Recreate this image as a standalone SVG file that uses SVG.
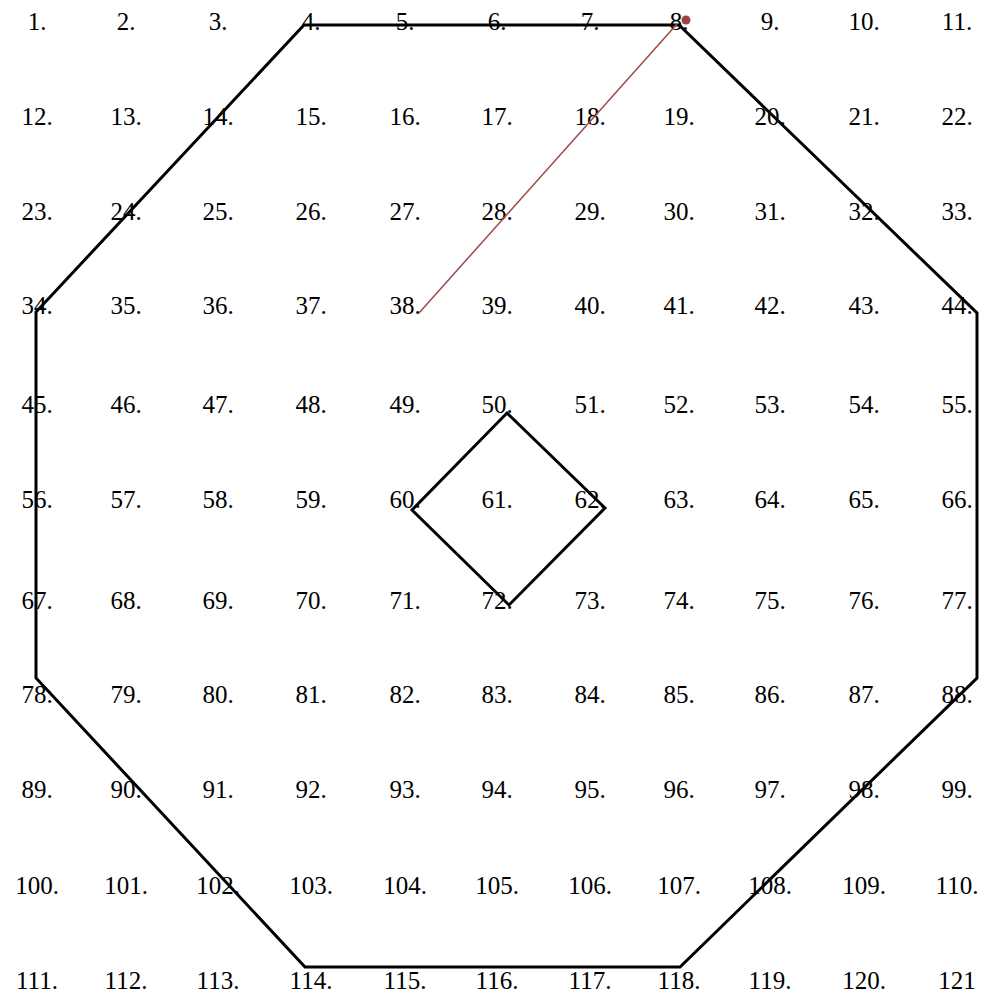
<svg xmlns="http://www.w3.org/2000/svg" width="990" height="998" viewBox="0 0 990 998">
<style>
.lbl{font-family:"Liberation Serif","Times New Roman",serif;font-size:25px;fill:#000;text-anchor:middle}
.shape{fill:none;stroke:#000;stroke-width:3;stroke-linejoin:miter}
.red{stroke:#a04848;stroke-width:1.5;fill:none}
</style>
<rect width="990" height="998" fill="#fff"/>
<g id="labels" class="lbl">
<g transform="translate(0,30)"><text x="37">1.</text><text x="126">2.</text><text x="218">3.</text><text x="311">4.</text><text x="405">5.</text><text x="497">6.</text><text x="590">7.</text><text x="679">8.</text><text x="770">9.</text><text x="864">10.</text><text x="957">11.</text></g>
<g transform="translate(0,125)"><text x="37">12.</text><text x="126">13.</text><text x="218">14.</text><text x="311">15.</text><text x="405">16.</text><text x="497">17.</text><text x="590">18.</text><text x="679">19.</text><text x="770">20.</text><text x="864">21.</text><text x="957">22.</text></g>
<g transform="translate(0,220)"><text x="37">23.</text><text x="126">24.</text><text x="218">25.</text><text x="311">26.</text><text x="405">27.</text><text x="497">28.</text><text x="590">29.</text><text x="679">30.</text><text x="770">31.</text><text x="864">32.</text><text x="957">33.</text></g>
<g transform="translate(0,314)"><text x="37">34.</text><text x="126">35.</text><text x="218">36.</text><text x="311">37.</text><text x="405">38.</text><text x="497">39.</text><text x="590">40.</text><text x="679">41.</text><text x="770">42.</text><text x="864">43.</text><text x="957">44.</text></g>
<g transform="translate(0,413)"><text x="37">45.</text><text x="126">46.</text><text x="218">47.</text><text x="311">48.</text><text x="405">49.</text><text x="497">50.</text><text x="590">51.</text><text x="679">52.</text><text x="770">53.</text><text x="864">54.</text><text x="957">55.</text></g>
<g transform="translate(0,508)"><text x="37">56.</text><text x="126">57.</text><text x="218">58.</text><text x="311">59.</text><text x="405">60.</text><text x="497">61.</text><text x="590">62.</text><text x="679">63.</text><text x="770">64.</text><text x="864">65.</text><text x="957">66.</text></g>
<g transform="translate(0,609)"><text x="37">67.</text><text x="126">68.</text><text x="218">69.</text><text x="311">70.</text><text x="405">71.</text><text x="497">72.</text><text x="590">73.</text><text x="679">74.</text><text x="770">75.</text><text x="864">76.</text><text x="957">77.</text></g>
<g transform="translate(0,703)"><text x="37">78.</text><text x="126">79.</text><text x="218">80.</text><text x="311">81.</text><text x="405">82.</text><text x="497">83.</text><text x="590">84.</text><text x="679">85.</text><text x="770">86.</text><text x="864">87.</text><text x="957">88.</text></g>
<g transform="translate(0,798)"><text x="37">89.</text><text x="126">90.</text><text x="218">91.</text><text x="311">92.</text><text x="405">93.</text><text x="497">94.</text><text x="590">95.</text><text x="679">96.</text><text x="770">97.</text><text x="864">98.</text><text x="957">99.</text></g>
<g transform="translate(0,894)"><text x="37">100.</text><text x="126">101.</text><text x="218">102.</text><text x="311">103.</text><text x="405">104.</text><text x="497">105.</text><text x="590">106.</text><text x="679">107.</text><text x="770">108.</text><text x="864">109.</text><text x="957">110.</text></g>
<g transform="translate(0,989)"><text x="37">111.</text><text x="126">112.</text><text x="218">113.</text><text x="311">114.</text><text x="405">115.</text><text x="497">116.</text><text x="590">117.</text><text x="679">118.</text><text x="770">119.</text><text x="864">120.</text><text x="957">121</text></g>
</g>
<g id="octagon"><polygon class="shape" points="304,25 679,25 977,313 977,678 680,967 305,967 36,678 36,312"/></g>
<g id="diamond"><polygon class="shape" points="507,413 605,508 509,605 412,510"/></g>
<g id="connectors">
<line class="red" x1="419" y1="313" x2="677" y2="24"/>
<circle cx="686" cy="20" r="4.5" fill="#a04040"/>
</g>
</svg>
